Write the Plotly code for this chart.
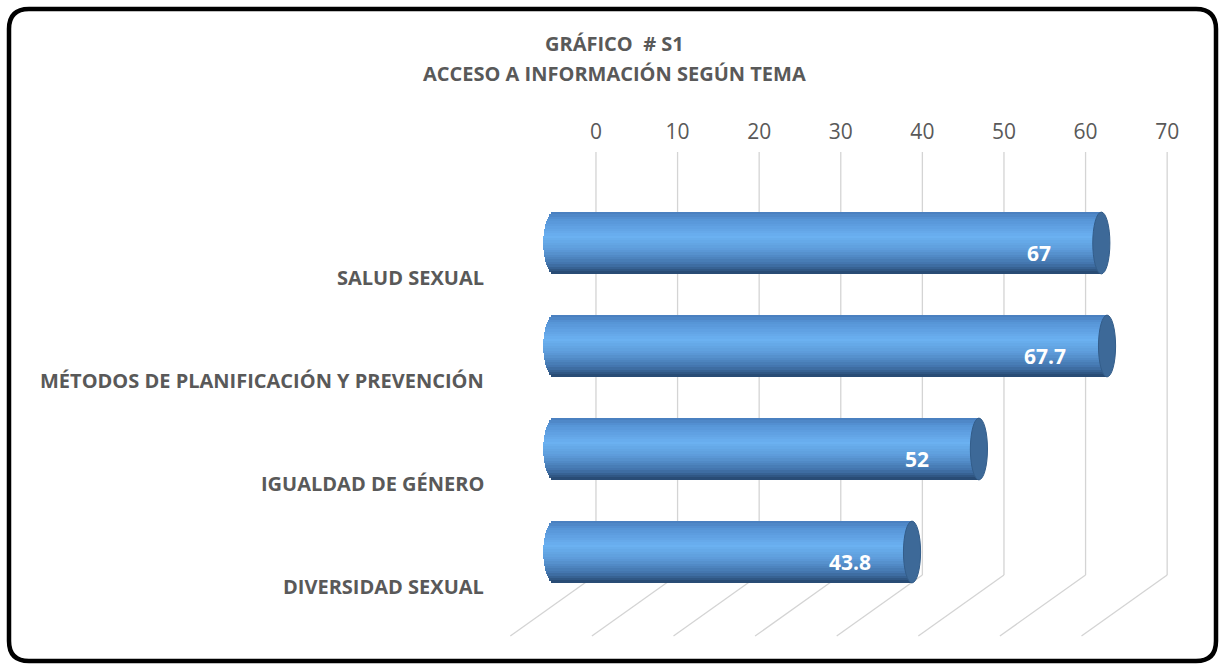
import numpy as np
import plotly.graph_objects as go

# ---------------- data ----------------
categories = [
    "SALUD SEXUAL",
    "MÉTODOS DE PLANIFICACIÓN Y PREVENCIÓN",
    "IGUALDAD DE GÉNERO",
    "DIVERSIDAD SEXUAL",
]
values = [67, 67.7, 52, 43.8]
value_labels = ["67", "67.7", "52", "43.8"]
tick_values = [0, 10, 20, 30, 40, 50, 60, 70]
title_line1 = "GRÁFICO  # S1"
title_line2 = "ACCESO A INFORMACIÓN SEGÚN TEMA"

# ---------------- geometry / style ----------------
W, H = 1219, 664
FONT = "Open Sans"
GREY = "#595959"
GRID = "#d4d4d4"

PX_PER_UNIT = 8.16          # horizontal scale
FRONT_ZERO_PX = 554.6       # pixel of value 0 in the bar plane
DEPTH_SHIFT = 5.07          # bar plane -> back wall shift (value units)
FLOOR_DEPTH = 10.5          # back wall -> floor front shift (value units)

ROW_PX = 103.0              # pixel distance between categories
FIRST_ROW_PX = 243.0        # pixel centre of first category
WALL_TOP_PX = 150.0         # top of back wall / axis line

BAR_W = 0.60                # bar thickness (category units)
N_SLICES = 26               # slices used to shade the cylinder
LEFT_BULGE = 1.4            # rounded left end (value units)
CAP_HW = 1.05               # half width of end cap ellipse (value units)

x_range = [-FRONT_ZERO_PX / PX_PER_UNIT, (W - FRONT_ZERO_PX) / PX_PER_UNIT]
x2_range = [r - DEPTH_SHIFT for r in x_range]
y_top = -(FIRST_ROW_PX - WALL_TOP_PX) / ROW_PX
y_bottom = y_top + (H - WALL_TOP_PX) / ROW_PX
y_domain_top = 1 - WALL_TOP_PX / H

n = len(categories)
idx = np.arange(n)
wall_bottom = (n - 1) + 0.223
floor_front = (n - 1) + 0.816
wall_top = y_top + 2 / ROW_PX

# gradient across the cylinder (top -> bottom)
stops = [
    (0.00, (72, 124, 188)),
    (0.12, (86, 148, 214)),
    (0.40, (107, 177, 241)),
    (0.62, (92, 154, 216)),
    (0.84, (66, 116, 172)),
    (1.00, (38, 70, 110)),
]


def grad(t):
    for (t0, c0), (t1, c1) in zip(stops[:-1], stops[1:]):
        if t0 <= t <= t1:
            f = (t - t0) / (t1 - t0)
            c = [round(a + (b - a) * f) for a, b in zip(c0, c1)]
            return f"rgb({c[0]},{c[1]},{c[2]})"
    c = stops[-1][1]
    return f"rgb({c[0]},{c[1]},{c[2]})"


fig = go.Figure()

# invisible trace to activate the back-wall axis
fig.add_trace(go.Scatter(x=tick_values, y=[y_top] * len(tick_values), xaxis="x2", yaxis="y",
                         mode="markers", marker=dict(opacity=0), hoverinfo="skip", showlegend=False))

# cylinder bars as shaded slices
for k in range(N_SLICES):
    s = (k + 0.5) / N_SLICES
    off = -BAR_W / 2 + s * BAR_W
    bulge = LEFT_BULGE * np.sqrt(max(0.0, 1 - (2 * s - 1) ** 2))
    fig.add_trace(go.Bar(
        orientation="h",
        y=[i + off for i in idx],
        x=[v + bulge for v in values],
        base=[-bulge] * n,
        width=BAR_W / N_SLICES * 1.15,
        marker=dict(color=grad(s), line=dict(width=0)),
        hoverinfo="skip",
        showlegend=False,
        xaxis="x", yaxis="y",
    ))

shapes = []
# back wall and floor gridlines
for t in tick_values:
    shapes.append(dict(type="line", xref="x2", yref="y", x0=t, x1=t, y0=wall_top, y1=wall_bottom,
                       line=dict(color=GRID, width=1.3), layer="below"))
    shapes.append(dict(type="line", xref="x2", yref="y", x0=t, x1=t - FLOOR_DEPTH,
                       y0=wall_bottom, y1=floor_front,
                       line=dict(color=GRID, width=1.3), layer="below"))

# end caps
for i, v in zip(idx, values):
    shapes.append(dict(type="circle", xref="x", yref="y",
                       x0=v - CAP_HW, x1=v + CAP_HW, y0=i - BAR_W / 2, y1=i + BAR_W / 2,
                       fillcolor="#3d6998", line=dict(color="#335d8a", width=1), layer="above"))

# outer rounded frame (paper coords, margins are zero)
fl, ft, fr, fb, rad = 9 / W, 1 - 9 / H, 1216 / W, 1 - 661 / H, 20
rx, ry = rad / W, rad / H
frame_path = (f"M {fl+rx},{ft} L {fr-rx},{ft} Q {fr},{ft} {fr},{ft-ry} "
              f"L {fr},{fb+ry} Q {fr},{fb} {fr-rx},{fb} "
              f"L {fl+rx},{fb} Q {fl},{fb} {fl},{fb+ry} "
              f"L {fl},{ft-ry} Q {fl},{ft} {fl+rx},{ft} Z")
shapes.append(dict(type="path", xref="paper", yref="paper", path=frame_path,
                   line=dict(color="black", width=4.5), layer="above"))

annotations = []
# category labels
for i, c in zip(idx, categories):
    annotations.append(dict(text=f"<b>{c}</b>", xref="paper", yref="y", x=486 / W, y=i,
                            xanchor="right", yanchor="middle", yshift=-34, showarrow=False,
                            font=dict(family=FONT, size=20, color=GREY)))
# value labels
for i, v, lab in zip(idx, values, value_labels):
    annotations.append(dict(text=f"<b>{lab}</b>", xref="x", yref="y", x=v, y=i,
                            xanchor="center", yanchor="middle", xshift=-62, yshift=-10,
                            showarrow=False, font=dict(family=FONT, size=21, color="white")))
# title
annotations.append(dict(text=f"<b>{title_line1}</b>", xref="paper", yref="paper", x=614 / W, y=1 - 43 / H,
                        xanchor="center", yanchor="middle", showarrow=False,
                        font=dict(family=FONT, size=20, color=GREY)))
annotations.append(dict(text=f"<b>{title_line2}</b>", xref="paper", yref="paper", x=614 / W, y=1 - 73 / H,
                        xanchor="center", yanchor="middle", showarrow=False,
                        font=dict(family=FONT, size=20, color=GREY)))

fig.update_layout(
    width=W, height=H,
    margin=dict(l=0, r=0, t=0, b=0),
    paper_bgcolor="white",
    plot_bgcolor="rgba(0,0,0,0)",
    barmode="overlay",
    bargap=0,
    showlegend=False,
    xaxis=dict(range=x_range, domain=[0, 1], visible=False, fixedrange=True),
    xaxis2=dict(range=x2_range, overlaying="x", side="top", anchor="y",
                tickvals=tick_values, ticktext=[str(t) for t in tick_values],
                showgrid=False, zeroline=False, showline=False, ticks="",
                ticklabelstandoff=6,
                tickfont=dict(family=FONT, size=21, color=GREY)),
    yaxis=dict(range=[y_bottom, y_top], domain=[0, y_domain_top], visible=False, fixedrange=True),
    shapes=shapes,
    annotations=annotations,
    font=dict(family=FONT),
)

fig.write_html("out.html", config={"displayModeBar": False},
               post_script="document.body.style.margin='0';")
